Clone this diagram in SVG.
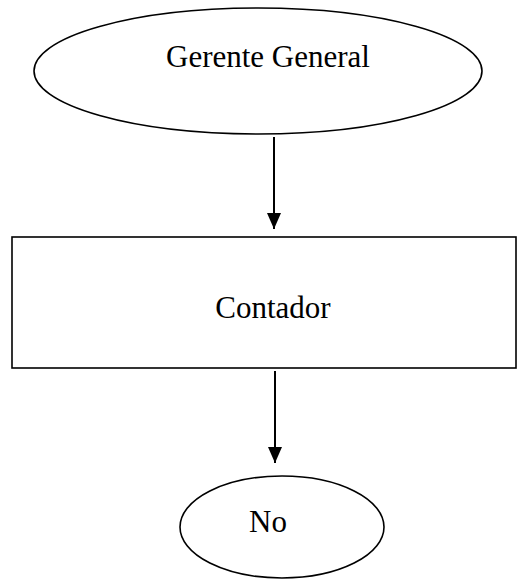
<svg xmlns="http://www.w3.org/2000/svg" width="517" height="580" viewBox="0 0 517 580">
  <style>
    .shape { fill: #ffffff; stroke: #000000; stroke-width: 1.6; }
    .label { font-family: "Liberation Serif", "Times New Roman", serif; font-size: 31px; fill: #000000; text-anchor: middle; }
    .link { stroke: #000000; stroke-width: 2; fill: none; }
  </style>
  <defs>
    <marker id="arrow" markerUnits="userSpaceOnUse" markerWidth="16" markerHeight="14" refX="16" refY="7" orient="auto">
      <path d="M0,0 L16,7 L0,14 Z" fill="#000000"/>
    </marker>
  </defs>
  <rect width="517" height="580" fill="#ffffff"/>

  <g id="connectors">
    <line class="link" x1="274" y1="137" x2="274" y2="229" marker-end="url(#arrow)"/>
    <line class="link" x1="275" y1="371" x2="275" y2="463" marker-end="url(#arrow)"/>
  </g>

  <g id="gerente-general">
    <ellipse class="shape" cx="258" cy="71" rx="224" ry="63"/>
    <text class="label" x="268" y="67">Gerente General</text>
  </g>

  <g id="contador">
    <rect class="shape" x="12" y="237" width="504" height="131"/>
    <text class="label" x="273" y="318">Contador</text>
  </g>

  <g id="no">
    <ellipse class="shape" cx="282" cy="527" rx="102" ry="51"/>
    <text class="label" x="268" y="532">No</text>
  </g>
</svg>
